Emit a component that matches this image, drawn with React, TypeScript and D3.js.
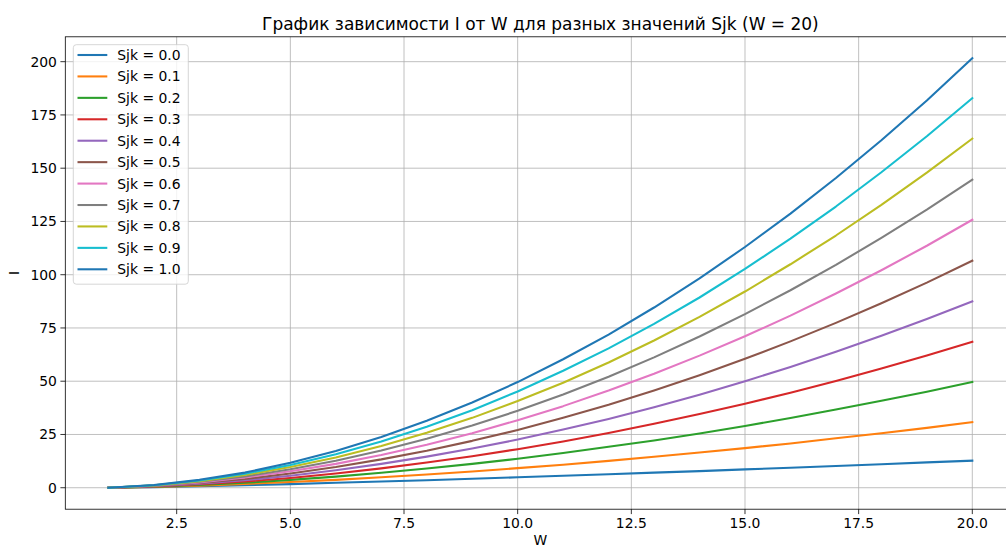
import React from 'react';
import * as d3 from 'd3';

// W values (x axis)
const W = [1, 2, 3, 4, 5, 6, 7, 8, 9, 10, 11, 12, 13, 14, 15, 16, 17, 18, 19, 20];

// I values for each Sjk
const I_00 = [0, 0.3, 0.7, 1.2, 1.7, 2.3, 2.9, 3.5, 4.2, 4.9, 5.6, 6.3, 7.1, 7.8, 8.6, 9.4, 10.2, 11.0, 11.9, 12.7];
const I_01 = [0, 0.4, 1.0, 1.8, 2.7, 3.7, 4.9, 6.2, 7.6, 9.2, 10.8, 12.6, 14.5, 16.5, 18.6, 20.8, 23.2, 25.6, 28.1, 30.8];
const I_02 = [0, 0.5, 1.3, 2.3, 3.7, 5.2, 7.0, 9.0, 11.2, 13.6, 16.3, 19.2, 22.2, 25.5, 29.0, 32.7, 36.7, 40.8, 45.1, 49.6];
const I_03 = [0, 0.6, 1.6, 2.9, 4.6, 6.7, 9.1, 11.8, 14.8, 18.1, 21.7, 25.7, 30.0, 34.6, 39.4, 44.6, 50.1, 56.0, 62.1, 68.5];
const I_04 = [0, 0.7, 1.9, 3.5, 5.6, 8.2, 11.2, 14.6, 18.4, 22.6, 27.3, 32.3, 37.8, 43.7, 50.0, 56.7, 63.8, 71.3, 79.2, 87.5];
const I_05 = [0, 0.8, 2.2, 4.1, 6.7, 9.7, 13.3, 17.4, 22.0, 27.1, 32.8, 38.9, 45.6, 52.8, 60.5, 68.7, 77.4, 86.6, 96.3, 106.6];
const I_06 = [0, 0.9, 2.5, 4.8, 7.7, 11.2, 15.4, 20.2, 25.6, 31.7, 38.3, 45.6, 53.5, 62.0, 71.1, 80.8, 91.2, 102.1, 113.6, 125.8];
const I_07 = [0, 1.0, 2.8, 5.3, 8.7, 12.7, 17.5, 23.0, 29.2, 36.1, 43.8, 52.1, 61.2, 71.0, 81.5, 92.7, 104.6, 117.3, 130.6, 144.6];
const I_08 = [0, 1.1, 3.1, 6.0, 9.7, 14.2, 19.6, 25.8, 32.8, 40.7, 49.3, 58.8, 69.1, 80.2, 92.1, 104.9, 118.4, 132.8, 147.9, 163.9];
const I_09 = [0, 1.2, 3.4, 6.6, 10.7, 15.7, 21.7, 28.6, 36.4, 45.2, 54.9, 65.4, 76.9, 89.3, 102.7, 116.9, 132.0, 148.1, 165.0, 182.9];
const I_10 = [0, 1.3, 3.7, 7.1, 11.7, 17.2, 23.8, 31.4, 40.0, 49.6, 60.3, 71.9, 84.6, 98.3, 113.0, 128.7, 145.4, 163.1, 181.8, 201.6];

const sjkLabels = ['0.0', '0.1', '0.2', '0.3', '0.4', '0.5', '0.6', '0.7', '0.8', '0.9', '1.0'];
const seriesValues = [I_00, I_01, I_02, I_03, I_04, I_05, I_06, I_07, I_08, I_09, I_10];

const xTicks = [2.5, 5.0, 7.5, 10.0, 12.5, 15.0, 17.5, 20.0];
const yTicks = [0, 25, 50, 75, 100, 125, 150, 175, 200];

const colors = ['#1f77b4', '#ff7f0e', '#2ca02c', '#d62728', '#9467bd', '#8c564b',
  '#e377c2', '#7f7f7f', '#bcbd22', '#17becf', '#1f77b4'];

const title = 'График зависимости I от W для разных значений Sjk (W = 20)';

const width = 1006;
const height = 550;
const left = 65.3;
const right = 1015.5;
const top = 36.8;
const bottom = 509.2;

const App = () => {
  // matplotlib-like 5% margins around the data
  const xMin = d3.min(W), xMax = d3.max(W);
  const xPad = (xMax - xMin) * 0.05;
  const yMax = d3.max(seriesValues, s => d3.max(s));
  const yPad = yMax * 0.05;

  const x = d3.scaleLinear().domain([xMin - xPad, xMax + xPad]).range([left, right]);
  const y = d3.scaleLinear().domain([0 - yPad, yMax + yPad]).range([bottom, top]);

  const line = d3.line().x((d, i) => x(W[i])).y(d => y(d));

  const font = '"DejaVu Sans", sans-serif';
  const legendRow = 21.43;

  return (
    <svg width={width} height={height} style={{ position: 'absolute', left: 0, top: 0, background: '#fff' }}
      fontFamily={font}>
      <rect x={0} y={0} width={width} height={height} fill="#fff" />

      {/* grid */}
      {xTicks.map(t => (
        <line key={'gx' + t} x1={x(t)} x2={x(t)} y1={top} y2={bottom} stroke="#b0b0b0" strokeWidth={0.8} />
      ))}
      {yTicks.map(t => (
        <line key={'gy' + t} x1={left} x2={right} y1={y(t)} y2={y(t)} stroke="#b0b0b0" strokeWidth={0.8} />
      ))}

      {/* lines */}
      {seriesValues.map((s, i) => (
        <path key={'s' + i} d={line(s)} fill="none" stroke={colors[i]} strokeWidth={2.08}
          strokeLinejoin="round" strokeLinecap="square" />
      ))}

      {/* spines */}
      <rect x={left} y={top} width={right - left} height={bottom - top} fill="none" stroke="#000" strokeWidth={0.8} />

      {/* x ticks */}
      {xTicks.map(t => (
        <g key={'tx' + t} transform={`translate(${x(t)},${bottom})`}>
          <line y1={0} y2={4.9} stroke="#000" strokeWidth={0.8} />
          <text y={19} textAnchor="middle" fontSize={13.9} fill="#000">{t.toFixed(1)}</text>
        </g>
      ))}
      {/* y ticks */}
      {yTicks.map(t => (
        <g key={'ty' + t} transform={`translate(${left},${y(t)})`}>
          <line x1={0} x2={-4.9} stroke="#000" strokeWidth={0.8} />
          <text x={-8.4} dy="0.36em" textAnchor="end" fontSize={13.9} fill="#000">{t}</text>
        </g>
      ))}

      {/* labels */}
      <text x={(left + right) / 2} y={29.5} textAnchor="middle" fontSize={17} fill="#000">{title}</text>
      <text x={(left + right) / 2} y={545} textAnchor="middle" fontSize={13.9} fill="#000">W</text>
      <text transform={`translate(19,${(top + bottom) / 2}) rotate(-90)`} textAnchor="middle" fontSize={13.9} fill="#000">I</text>

      {/* legend */}
      <rect x={73.3} y={44.7} width={115} height={239.5} rx={3} fill="#fff" fillOpacity={0.8}
        stroke="#cccccc" strokeWidth={0.8} />
      {sjkLabels.map((lab, i) => (
        <g key={'lg' + i} transform={`translate(0,${55 + i * legendRow})`}>
          <line x1={77.5} x2={107.3} y1={0} y2={0} stroke={colors[i]} strokeWidth={2.08} />
          <text x={117.3} dy="0.36em" fontSize={13.9} fill="#000">{'Sjk = ' + lab}</text>
        </g>
      ))}
    </svg>
  );
};

export default App;
